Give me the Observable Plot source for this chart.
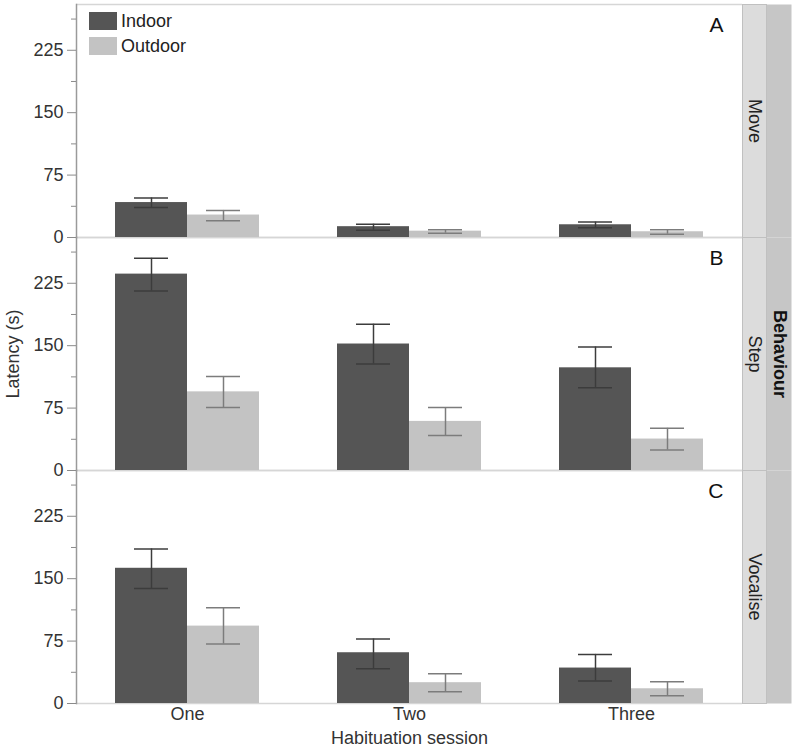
<!DOCTYPE html>
<html>
<head>
<meta charset="utf-8">
<script src="https://cdn.jsdelivr.net/npm/d3@7"></script>
<script src="https://cdn.jsdelivr.net/npm/@observablehq/plot@0.6"></script>
<style>
  html, body { margin: 0; padding: 0; background: #fff; }
  #wrap { position: relative; width: 794px; height: 747px; font-family: "Liberation Sans", Arial, sans-serif; }
  #legend { position: absolute; left: 89px; top: 12px; font-size: 18px; color: #222; line-height: 1; }
  #legend .row { display: flex; align-items: center; height: 18px; margin-bottom: 7px; }
  #legend .sw { width: 28px; height: 18px; margin-right: 4px; }
</style>
</head>
<body>
<div id="wrap"></div>
<script>
// ---- data ----
const sessions = ["One", "Two", "Three"];
const locations = ["Indoor", "Outdoor"];
const behaviours = ["Move", "Step", "Vocalise"];
const panelLetters = ["A", "B", "C"];
const yTicks = [0, 75, 150, 225];
const yMinorTicks = [37.5, 112.5, 187.5, 262.5];

const moveIndoor = [42, 13, 15.3];
const moveIndoorLo = [36, 8.8, 11.7];
const moveIndoorHi = [47.5, 16, 18.5];
const moveOutdoor = [27, 7.6, 6.9];
const moveOutdoorLo = [20, 5.2, 4];
const moveOutdoorHi = [32.5, 9.3, 9.3];

const stepIndoor = [236, 152, 123.4];
const stepIndoorLo = [215.6, 128, 99.3];
const stepIndoorHi = [255, 175.8, 148.4];
const stepOutdoor = [94.5, 59, 37.8];
const stepOutdoorLo = [75.6, 42, 24.5];
const stepOutdoorHi = [113, 75.6, 50.7];

const vocIndoor = [162.5, 61, 42.6];
const vocIndoorLo = [138.3, 41.9, 27];
const vocIndoorHi = [185.8, 77.6, 59];
const vocOutdoor = [93, 25, 17.7];
const vocOutdoorLo = [71.5, 14, 9.3];
const vocOutdoorHi = [115, 35.8, 26];

const colors = ["#555555", "#c3c3c3"];

// ---- table ----
const series = {
  Move: {Indoor: [moveIndoor, moveIndoorLo, moveIndoorHi], Outdoor: [moveOutdoor, moveOutdoorLo, moveOutdoorHi]},
  Step: {Indoor: [stepIndoor, stepIndoorLo, stepIndoorHi], Outdoor: [stepOutdoor, stepOutdoorLo, stepOutdoorHi]},
  Vocalise: {Indoor: [vocIndoor, vocIndoorLo, vocIndoorHi], Outdoor: [vocOutdoor, vocOutdoorLo, vocOutdoorHi]}
};
const rows = [];
for (const b of behaviours) for (const loc of locations) sessions.forEach((s, i) => {
  const [m, lo, hi] = series[b][loc];
  rows.push({behaviour: b, location: loc, session: s, mean: m[i], lo: lo[i], hi: hi[i]});
});
const indoorRows = rows.filter(d => d.location === "Indoor");
const outdoorRows = rows.filter(d => d.location === "Outdoor");

// ---- layout ----
const W = 794, H = 747;
const mL = 76, mR = 52, mT = 3, mB = 43;
const facetW = (W - mL - mR) / sessions.length;
const yMax = 280;

const errMarks = (data, stroke) => [
  Plot.ruleX(data, {fx: "session", fy: "behaviour", x: "location", y1: "lo", y2: "hi", stroke, strokeWidth: 1.5}),
  Plot.tickY(data, {fx: "session", fy: "behaviour", x: "location", y: "hi", stroke, strokeWidth: 1.5, insetLeft: 19, insetRight: 19}),
  Plot.tickY(data, {fx: "session", fy: "behaviour", x: "location", y: "lo", stroke, strokeWidth: 1.5, insetLeft: 19, insetRight: 19})
];

const chart = Plot.plot({
  width: W, height: H,
  marginLeft: mL, marginRight: mR, marginTop: mT, marginBottom: mB,
  style: {fontFamily: "'Liberation Sans', Arial, sans-serif", fontSize: "18px", color: "#333", background: "#fff"},
  fx: {domain: sessions, padding: 0, axis: null},
  fy: {domain: behaviours, padding: 0, axis: null},
  x: {domain: locations, paddingInner: 0, paddingOuter: 0.53, axis: null},
  y: {domain: [0, yMax]},
  color: {domain: locations, range: colors},
  marks: [
    // strips
    ...behaviours.map(b => Plot.frame({fx: "Three", fy: b, fill: "#c6c6c6", stroke: null, insetLeft: facetW + 24, insetRight: -49})),
    ...behaviours.map(b => Plot.frame({fx: "Three", fy: b, fill: "#dcdcdc", stroke: "#c0c0c0", insetLeft: facetW, insetRight: -24})),
    Plot.text(behaviours, {fx: () => "Three", fy: d => d, text: d => d, frameAnchor: "right", dx: 12, rotate: 90, textAnchor: "middle", lineAnchor: "middle", fill: "#222", fontSize: 18}),
    Plot.text(["Behaviour"], {fx: () => "Three", fy: () => "Step", text: d => d, frameAnchor: "right", dx: 37, rotate: 90, textAnchor: "middle", lineAnchor: "middle", fill: "#111", fontWeight: "bold", fontSize: 18}),
    // panel borders
    Plot.ruleY([0], {stroke: "#d6d6d6", strokeWidth: 1.5}),
    Plot.ruleY([yMax], {stroke: "#d6d6d6", strokeWidth: 1.5}),
    ...behaviours.map(b => Plot.frame({fx: "One", fy: b, anchor: "left", stroke: "#9a9a9a", strokeWidth: 1.5})),
    // bars
    Plot.barY(rows, {fx: "session", fy: "behaviour", x: "location", y: "mean", fill: "location"}),
    ...errMarks(indoorRows, "#3c3c3c"),
    ...errMarks(outdoorRows, "#7c7c7c"),
    // axes
    Plot.axisY({ticks: yTicks, tickSize: 9, tickPadding: 4, label: null, stroke: "#8a8a8a", fill: "#333", fontSize: 18}),
    Plot.axisY({ticks: yMinorTicks, tickSize: 5, tickFormat: () => "", label: null, stroke: "#8a8a8a"}),
    Plot.axisFx({anchor: "bottom", tickSize: 0, tickPadding: 4, label: null, fill: "#333", fontSize: 18}),
    Plot.text(["Habituation session"], {fx: () => "Two", fy: () => "Vocalise", text: d => d, frameAnchor: "bottom", dy: 35, textAnchor: "middle", lineAnchor: "middle", fill: "#333", fontSize: 18}),
    Plot.text(["Latency (s)"], {fx: () => "One", fy: () => "Step", text: d => d, frameAnchor: "left", dx: -63, rotate: -90, textAnchor: "middle", lineAnchor: "middle", fill: "#333", fontSize: 18}),
    // panel letters
    Plot.text(panelLetters, {fx: () => "Three", fy: (d, i) => behaviours[i], text: d => d, frameAnchor: "top-right", dx: -19, dy: 13, textAnchor: "end", lineAnchor: "top", fill: "#111", fontSize: 21})
  ]
});

const wrap = document.getElementById("wrap");
wrap.appendChild(chart);

// legend
const legend = document.createElement("div");
legend.id = "legend";
locations.forEach((loc, i) => {
  const row = document.createElement("div");
  row.className = "row";
  const sw = document.createElement("div");
  sw.className = "sw";
  sw.style.background = colors[i];
  const t = document.createElement("span");
  t.textContent = loc;
  row.appendChild(sw); row.appendChild(t);
  legend.appendChild(row);
});
wrap.appendChild(legend);
</script>
</body>
</html>
